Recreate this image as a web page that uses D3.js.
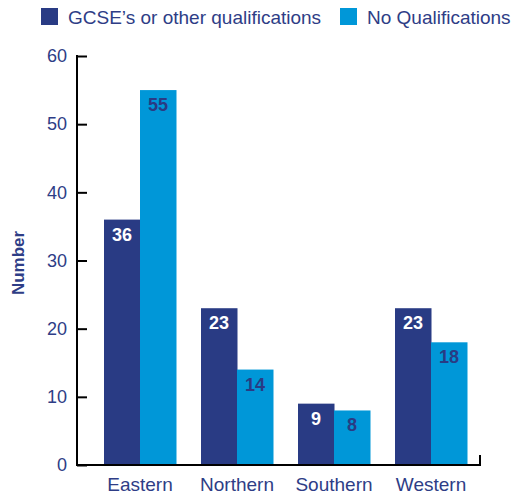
<!DOCTYPE html>
<html lang="en">
<head>
  <meta charset="UTF-8">
  <title>Qualifications by Area</title>
  <script src="https://d3js.org/d3.v7.min.js"></script>
  <style>
    body { margin: 0; background: #fff; font-family: "Liberation Sans", Arial, sans-serif; }
    text { font-family: "Liberation Sans", Arial, sans-serif; }
    .axis text { font-size: 18px; fill: #2e3d86; }
  </style>
</head>
<body>
  <div id="chart"></div>
  <script>
    const regions = ["Eastern", "Northern", "Southern", "Western"];
    const series = ["GCSE\u2019s or other qualifications", "No Qualifications"];
    const gcse = [36, 23, 9, 23];
    const noQual = [55, 14, 8, 18];
    const yTicks = [0, 10, 20, 30, 40, 50, 60];

    const colors = ["#293b84", "#0097d8"];
    const labelColors = ["#ffffff", "#293b84"];
    const textColor = "#2e3d86";

    const W = 527, H = 498;
    const svg = d3.select("#chart").append("svg")
      .attr("width", W).attr("height", H);

    const x0 = d3.scaleBand().domain(regions).range([91.5, 479.5])
      .paddingInner(0.2577).paddingOuter(0.12885);
    const x1 = d3.scaleBand().domain([0, 1]).range([0, x0.bandwidth()]);
    const y = d3.scaleLinear().domain([0, 60]).range([465, 56]);

    const rows = regions.map((r, i) => ({ region: r, vals: [gcse[i], noQual[i]] }));

    // bars
    const g = svg.append("g");
    const groups = g.selectAll(".grp").data(rows).enter().append("g")
      .attr("transform", d => `translate(${x0(d.region)},0)`);

    groups.selectAll("rect").data(d => d.vals).enter().append("rect")
      .attr("x", (d, i) => x1(i))
      .attr("y", d => y(d))
      .attr("width", x1.bandwidth() + 0.5)
      .attr("height", d => y(0) - y(d))
      .attr("fill", (d, i) => colors[i]);

    groups.selectAll(".val").data(d => d.vals).enter().append("text")
      .attr("x", (d, i) => x1(i) + x1.bandwidth() / 2)
      .attr("y", d => y(d) + 21)
      .attr("text-anchor", "middle")
      .style("font-size", "18px")
      .style("font-weight", "bold")
      .attr("fill", (d, i) => labelColors[i])
      .text(d => d);

    // y axis
    const yAxis = svg.append("g").attr("class", "axis")
      .attr("transform", "translate(77,0)")
      .call(d3.axisRight(y).tickValues(yTicks).tickSize(10).tickFormat(d3.format("d")));
    yAxis.select(".domain").remove();
    yAxis.selectAll(".tick line").attr("stroke", "#000").attr("stroke-width", 2);
    yAxis.selectAll(".tick text").attr("x", -10).attr("text-anchor", "end").attr("dy", "0.32em");
    svg.append("line").attr("x1", 77).attr("x2", 77).attr("y1", 55).attr("y2", 466)
      .attr("stroke", "#000").attr("stroke-width", 2);

    // x axis
    svg.append("line").attr("x1", 76).attr("x2", 481).attr("y1", y(0)).attr("y2", y(0))
      .attr("stroke", "#000").attr("stroke-width", 2);
    svg.append("line").attr("x1", 480).attr("x2", 480).attr("y1", y(0) + 1).attr("y2", y(0) - 10)
      .attr("stroke", "#000").attr("stroke-width", 2);
    svg.selectAll(".xlab").data(regions).enter().append("text")
      .attr("x", d => x0(d) + x0.bandwidth() / 2)
      .attr("y", 491)
      .attr("text-anchor", "middle")
      .style("font-size", "19px")
      .attr("fill", textColor)
      .text(d => d);

    // y label
    svg.append("text")
      .attr("transform", "translate(24,263) rotate(-90)")
      .attr("text-anchor", "middle")
      .style("font-size", "17px")
      .style("font-weight", "bold")
      .attr("fill", textColor)
      .text("Number");

    // legend
    const legendX = [41, 340];
    series.forEach((s, i) => {
      svg.append("rect").attr("x", legendX[i]).attr("y", 8).attr("width", 17).attr("height", 17)
        .attr("fill", colors[i]);
      svg.append("text").attr("x", legendX[i] + 27).attr("y", 24)
        .style("font-size", "19px").attr("fill", textColor).text(s);
    });
  </script>
</body>
</html>
